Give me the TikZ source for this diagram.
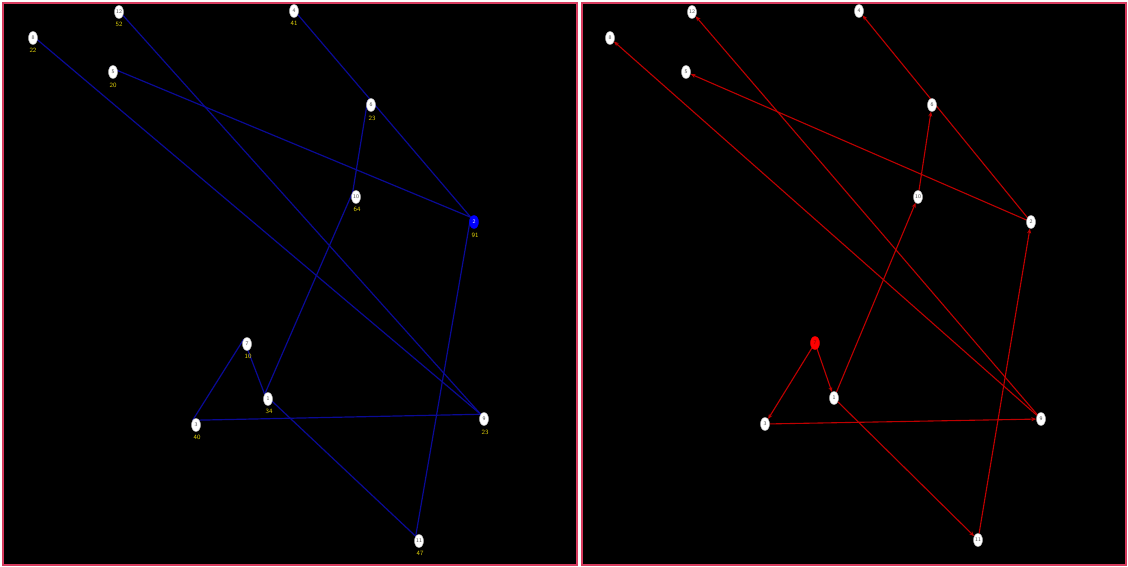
\documentclass[tikz,border=0pt]{standalone}
\usetikzlibrary{shapes.geometric,arrows.meta}
\pgfdeclarelayer{panellayer}
\pgfdeclarelayer{edgelayer}
\pgfsetlayers{panellayer,edgelayer,main}
\definecolor{frame}{RGB}{215,60,95}
\definecolor{navy}{RGB}{10,10,150}
\definecolor{darkred}{RGB}{190,0,0}
\definecolor{distyel}{RGB}{225,210,10}
\begin{document}
\begin{tikzpicture}[x=1pt,y=-1pt,
  vtx/.style={ellipse, fill=white, draw=gray!50, line width=0.4pt, minimum width=9pt, minimum height=13pt, inner sep=0pt, font=\sffamily\fontsize{5.5}{5.5}\selectfont, text=gray!60!black},
  hotblue/.style={vtx, fill=blue, draw=blue, text=white},
  hotred/.style={vtx, fill=red, draw=red, text=red!50!black},
  dist/.style={text=distyel, font=\sffamily\fontsize{6.5}{6.5}\selectfont, inner sep=0pt},
  ledge/.style={draw=navy, line width=1.2pt},
  redge/.style={draw=darkred, line width=1.1pt, -{Stealth[length=5pt,width=4pt]}},
  panel/.style={draw=frame, line width=2pt, fill=black}]
\begin{pgfonlayer}{panellayer}
\fill[white] (0,0) rectangle (1128,567);
\draw[panel] (3,3) rectangle (577,565);
\draw[panel] (582,3) rectangle (1126,565);
\end{pgfonlayer}
\useasboundingbox (0,0) rectangle (1128,567);

% ---------- left panel ----------
\node[vtx] (L8) at (33,38) {8};
\node[vtx] (L12) at (119,12) {12};
\node[vtx] (L4) at (294,11) {4};
\node[vtx] (L5) at (113,72) {5};
\node[vtx] (L6) at (371,105) {6};
\node[vtx] (L10) at (356,197) {10};
\node[hotblue] (L2) at (474,222) {2};
\node[vtx] (L7) at (247,344) {7};
\node[vtx] (L1) at (268,399) {1};
\node[vtx] (L3) at (196,425) {3};
\node[vtx] (L9) at (484,419) {9};
\node[vtx] (L11) at (419,541) {11};

\node[dist] (D8) at (33,50) {22};
\node[dist] (D12) at (119,24) {52};
\node[dist] (D4) at (294,23) {41};
\node[dist] (D5) at (113,85) {20};
\node[dist] (D6) at (372,118) {23};
\node[dist] (D10) at (357,209) {64};
\node[dist] (D2) at (475,235) {91};
\node[dist] (D7) at (248,356) {10};
\node[dist] (D1) at (269,411) {34};
\node[dist] (D3) at (197,437) {40};
\node[dist] (D9) at (485,432) {23};
\node[dist] (D11) at (420,553) {47};

\begin{pgfonlayer}{edgelayer}
\draw[ledge] (L7.north west) -- (L3.north west);
\draw[ledge] (L7.north west) -- (L1.north west);
\draw[ledge] (L1.north west) -- (L10.north west);
\draw[ledge] (L10.north west) -- (L6.north west);
\draw[ledge] (L1.north west) -- (L11.north west);
\draw[ledge] (L11.north west) -- (L2.north west);
\draw[ledge] (L3.north west) -- (L9.north west);
\draw[ledge] (L9.north west) -- (L8.north west);
\draw[ledge] (L9.north west) -- (L12.north west);
\draw[ledge] (L2.north west) -- (L5.north west);
\draw[ledge] (L2.north west) -- (L4.north west);
\end{pgfonlayer}

% ---------- right panel ----------
\node[vtx] (R8) at (610,38) {8};
\node[vtx] (R12) at (692,12) {12};
\node[vtx] (R4) at (859,11) {4};
\node[vtx] (R5) at (686,72) {5};
\node[vtx] (R6) at (932,105) {6};
\node[vtx] (R10) at (918,197) {10};
\node[vtx] (R2) at (1031,222) {2};
\node[hotred] (R7) at (815,343) {7};
\node[vtx] (R1) at (834,398) {1};
\node[vtx] (R3) at (765,424) {3};
\node[vtx] (R9) at (1041,419) {9};
\node[vtx] (R11) at (978,540) {11};

\begin{pgfonlayer}{edgelayer}
\draw[redge] (R7) -- (R3);
\draw[redge] (R7) -- (R1);
\draw[redge] (R1) -- (R10);
\draw[redge] (R10) -- (R6);
\draw[redge] (R1) -- (R11);
\draw[redge] (R11) -- (R2);
\draw[redge] (R3) -- (R9);
\draw[redge] (R9) -- (R8);
\draw[redge] (R9) -- (R12);
\draw[redge] (R2) -- (R5);
\draw[redge] (R2) -- (R4);
\end{pgfonlayer}
\end{tikzpicture}
\end{document}
